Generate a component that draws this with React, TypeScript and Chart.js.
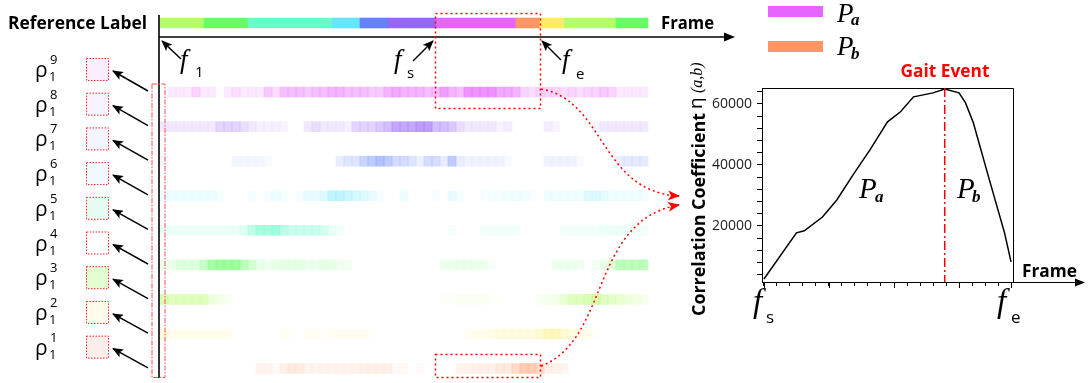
import React, { useEffect, useRef } from 'react';
import { Chart, registerables } from 'chart.js';

Chart.register(...registerables);

// ---------- data: left heat-map diagram ----------
const TOTAL_FRAMES = 122;
const CELL_FRAMES = 2;
const refLabelBounds = [0, 11, 22, 43, 50, 57, 69, 89, 95, 101, 114, 122];
const refLabelColors = ['#b4ff64', '#64ff64', '#64ffc8', '#64e6ff', '#6482ff', '#9664ff', '#e664ff', '#ff9664', '#ffeb64', '#b4ff64', '#64ff64'];
const rowLabels = ['ρ9', 'ρ8', 'ρ7', 'ρ6', 'ρ5', 'ρ4', 'ρ3', 'ρ2', 'ρ1'];
const rowSup = ['9', '8', '7', '6', '5', '4', '3', '2', '1'];
const rowColors = ['#e664ff', '#9664ff', '#6482ff', '#64e6ff', '#64ffc8', '#64ff64', '#b4ff64', '#ffeb64', '#ff9664'];
const squareFills = ['#fbeefe', '#f6f2ff', '#f2f4ff', '#eff9ff', '#e6fbf1', '#ffffff', '#e2fdd2', '#fffbea', '#fdeee9'];

const rho9 = [0,1,1,1,2,1,1,0,1,1.5, 1,1,1,2.5,1.5,3,3,3,2.5,3, 3,3.5,3.5,3,3,3,2.5,2.5,3.5,4, 3.5,3.5,3.5,3,3,4.5,3.5,3,5,5, 5,5,4,4,3.5,2,1.5,2,2,2, 1.5,2,1.5,2,2,2.5,2,1,1,1, 1];
const rho8 = [1,1,1,1,1,1,1,2,2,2, 1.5,1,0.7,0.7,0.7,0.5,0,0,1,1.5, 1,1,1,0.7,2,2,2,2.5,3,4, 4,4,4.5,4.5,3,3,2.5,1.5,1,1, 1,1,0.5,0.8,0,0,0,0,0.8,0.5, 0,0,0,0,0.5,1,1,1,1,1, 1];
const rho7 = [0.5,0,0,0,0,0,0,0,0,0.5, 0.5,0.5,0.5,0.3,0,0,0,0,0,0, 0,0,1,1.5,1.5,2.5,3,3.5,3,2, 2,1.5,0.8,2,2,1,3,1,0.7,0.7, 0.7,0.7,0.7,0.3,0,0,0,0,0.7,0.7, 0.7,0.7,0.3,0,0,0,0,1,1.2,1.2, 1.2];
const rho6 = [0.8,0.8,0.8,0.8,0.8,0.8,0.8,0.5,0,0, 0,0.5,0,0.5,0.8,0.5,0,0.5,1,1, 1.5,3,3,2.5,2,1.5,1,0.5,0,0, 0.8,0,0,0,0.3,0,1,0.5,0,0, 0.3,0.5,0.5,0.7,0.7,0.7,0.3,0,0.8,0.7, 0.7,0.7,0.7,1.5,1.5,1.2,0.7,0.7,0.7,0.7, 0.7];
const rho5 = [0.8,0.8,0.8,0.8,0.8,0.8,0.8,0.8,0.8,0.8, 1.5,3,4,4,4.5,3,2.5,2.5,2.5,2.5, 2,1,0.5,0,0,0,0,0,0,0, 0,0,0,0,0,0,0.5,0,0,0, 0.5,0.6,0.6,0.6,0.5,0,0,0,0,0, 0.5,0.6,0.6,0.6,0.6,0.8,0.8,0.8,0.8,0.6, 0.6];
const rho4 = [0.8,0.8,1.5,1.5,1.5,2.5,4,4.5,4.5,4.5, 3,2,1,0.7,1,1.2,1.2,1.2,0.8,0.8, 1.2,1,0.7,0.5,0,0,0,0,0,0, 0,0,0,0,0,0.8,0.8,1,1,0.8, 0.8,0.3,0,0,0,0,0,0,0,0.8, 0.8,0.8,0.7,0,0.5,1,1.5,3,3,3, 3];
const rho3 = [3.5,3,3,3,3,3,1.5,1,0.5,0, 0,0,0,0,0,0,0,0,0,0, 0,0,0,0,0,0,0,0,0,0, 0,0,0,0,0,0.4,0.3,0.5,0.5,0.5, 0.5,0.2,0.2,0,0,0,0,0.5,0.8,1, 2,3,3,3.5,4,3,2.5,2,1.5,1.2, 1];
const rho2 = [1.5,0.8,0.8,0.8,0.8,0.8,0.8,0.8,0.8,0, 0,0,0,0,0,0.5,0.3,0,0.5,0.5, 0.3,0.5,0.6,0.6,0.6,0.6,0.3,0,0,0, 0,0,0,0,0,0,0,0,0.5,0.8, 0.8,1,1.5,1.5,1.5,1.5,1.5,2,3,3, 2,1.5,1,0.8,0.3,0,0,0,0,0, 0];
const rho1 = [0,0,0,0,0,0,0,0,0,0, 0,0,0.8,0.8,0.3,1,1.5,1.2,0.8,0.7, 0.8,0.8,0.8,0.8,0.8,1,1,1,1,0.3, 0.5,0,0.3,0,0,0,0,0.8,0.8,1, 1,1,1.5,1.5,2.5,3.5,3.5,2.5,1,0.8, 0.7,0,0,0,0,0,0,0,0,0, 0];
const heatRows = [rho9, rho8, rho7, rho6, rho5, rho4, rho3, rho2, rho1];

// ---------- data: right correlation chart ----------
const corrFrames = [0, 2.5, 3.1, 4.5, 5.6, 6.85, 8.15, 9.5, 10.5, 11.5, 13, 13.9, 15, 15.5, 16.1, 17.4, 18.5, 19];
const corrValues = [2600, 17700, 18400, 22900, 28500, 36700, 44900, 54100, 57400, 62300, 63600, 64900, 63600, 60300, 53800, 34100, 17700, 8200];
const GAIT_FRAME = 13.9;
const xTickFrames = Array.from({ length: 20 }, (_, i) => i);
const yTickValues = [4000, 8000, 12000, 16000, 20000, 24000, 28000, 32000, 36000, 40000, 44000, 48000, 52000, 56000, 60000, 64000];

const W = 1088;
const H = 383;
const ROW0_Y = 91;
const ROW_STEP = 34.6;

function rgba(hex: string, a: number) {
  const n = parseInt(hex.slice(1), 16);
  return `rgba(${(n >> 16) & 255},${(n >> 8) & 255},${n & 255},${a})`;
}

const framePlugin = {
  id: 'frameDecor',
  afterDraw(chart: any) {
    const { ctx, chartArea } = chart;
    const { left, right, top, bottom } = chartArea;
    const xs = chart.scales.x;
    ctx.save();
    ctx.strokeStyle = '#000';
    ctx.lineWidth = 1;
    ctx.beginPath();
    ctx.moveTo(left, Math.round(top) + 0.5);
    ctx.lineTo(Math.round(right) + 0.5, Math.round(top) + 0.5);
    ctx.lineTo(Math.round(right) + 0.5, bottom);
    ctx.stroke();
    // longer major ticks on the frame axis
    [0, 5, 10, 15, 19].forEach((v) => {
      const px = Math.round(xs.getPixelForValue(v)) + 0.5;
      ctx.beginPath();
      ctx.moveTo(px, bottom);
      ctx.lineTo(px, bottom + 6);
      ctx.stroke();
    });
    // x-axis extension with arrow
    ctx.beginPath();
    ctx.moveTo(right, Math.round(bottom) + 0.5);
    ctx.lineTo(1078, Math.round(bottom) + 0.5);
    ctx.stroke();
    ctx.fillStyle = '#000';
    ctx.beginPath();
    ctx.moveTo(1085, bottom + 0.5);
    ctx.lineTo(1075, bottom - 3.5);
    ctx.lineTo(1075, bottom + 4.5);
    ctx.closePath();
    ctx.fill();
    // gait event line
    const gx = xs.getPixelForValue(GAIT_FRAME);
    ctx.strokeStyle = '#ff0000';
    ctx.lineWidth = 1.5;
    ctx.setLineDash([9, 3, 2, 3]);
    ctx.beginPath();
    ctx.moveTo(gx, top);
    ctx.lineTo(gx, bottom);
    ctx.stroke();
    ctx.restore();
  },
};

export default function App() {
  const heatRef = useRef<HTMLCanvasElement>(null);
  const lineRef = useRef<HTMLCanvasElement>(null);

  useEffect(() => {
    document.body.style.margin = '0';
    Chart.defaults.font.family = "'Open Sans', sans-serif";

    const yLabels = ['ref', 'gap', ...rowLabels];
    const datasets: any[] = [
      {
        data: refLabelColors.map((_, i) => ({ x: [refLabelBounds[i], refLabelBounds[i + 1]], y: 'ref' })),
        backgroundColor: refLabelColors,
        barThickness: 10,
        grouped: false,
        borderWidth: 0,
        clip: false,
      },
    ];
    heatRows.forEach((vals, r) => {
      datasets.push({
        data: vals.map((_, k) => ({ x: [k * CELL_FRAMES, k * CELL_FRAMES + CELL_FRAMES], y: rowLabels[r] })),
        backgroundColor: vals.map((v) => rgba(rowColors[r], Math.min(0.8, v * 0.14))),
        barThickness: 10,
        grouped: false,
        borderWidth: 0,
        clip: false,
      });
    });

    const heat = new Chart(heatRef.current!, {
      type: 'bar',
      data: { labels: yLabels, datasets },
      options: {
        indexAxis: 'y',
        animation: false,
        responsive: false,
        maintainAspectRatio: false,
        layout: { padding: { left: 160, right: W - 648, top: 23, bottom: H - 368.5 } },
        scales: {
          x: { type: 'linear', min: 0, max: TOTAL_FRAMES, display: false },
          y: { type: 'category', offset: false, display: false },
        },
        plugins: { legend: { display: false }, tooltip: { enabled: false } },
      },
    } as any);

    const line = new Chart(lineRef.current!, {
      type: 'line',
      data: {
        datasets: [
          {
            data: corrFrames.map((f, i) => ({ x: f, y: corrValues[i] })),
            borderColor: '#000',
            borderWidth: 1.5,
            pointRadius: 0,
            tension: 0,
            fill: false,
          },
        ],
      },
      options: {
        animation: false,
        responsive: false,
        maintainAspectRatio: false,
        layout: { padding: { left: 680, right: W - 1013, top: 88, bottom: 81 } },
        scales: {
          x: {
            type: 'linear',
            min: -0.15,
            max: 19.15,
            afterBuildTicks: (s: any) => {
              s.ticks = xTickFrames.map((v) => ({ value: v }));
            },
            afterFit: (s: any) => {
              s.height = 20;
            },
            ticks: { callback: () => '', autoSkip: false },
            grid: { drawOnChartArea: false, tickLength: 4, color: '#000' },
            border: { color: '#000', width: 1 },
          },
          y: {
            type: 'linear',
            min: 1600,
            max: 65200,
            afterBuildTicks: (s: any) => {
              s.ticks = yTickValues.map((v) => ({ value: v }));
            },
            afterFit: (s: any) => {
              s.width = 82;
            },
            ticks: {
              autoSkip: false,
              callback: (v: any) => (Number(v) % 20000 === 0 ? String(v) : ''),
              font: { family: "'Open Sans', sans-serif", size: 14 },
              color: '#222',
              padding: 5,
            },
            grid: { drawOnChartArea: false, tickLength: 5, color: '#000' },
            border: { color: '#000', width: 1 },
          },
        },
        plugins: { legend: { display: false }, tooltip: { enabled: false } },
      },
      plugins: [framePlugin],
    } as any);

    return () => {
      heat.destroy();
      line.destroy();
    };
  }, []);

  const sans = "'Open Sans', sans-serif";
  const serif = "'Liberation Serif', 'DejaVu Serif', serif";

  return (
    <div style={{ position: 'relative', width: W, height: H, background: '#fff' }}>
      <canvas ref={heatRef} width={W} height={H} style={{ position: 'absolute', left: 0, top: 0 }} />
      <canvas ref={lineRef} width={W} height={H} style={{ position: 'absolute', left: 0, top: 0 }} />
      <svg width={W} height={H} style={{ position: 'absolute', left: 0, top: 0, pointerEvents: 'none' }}>
        <defs>
          <marker id="ah" markerUnits="userSpaceOnUse" markerWidth="11" markerHeight="9" refX="10" refY="4.5" orient="auto">
            <path d="M0,0 L11,4.5 L0,9 L2.5,4.5 z" fill="#000" />
          </marker>
          <marker id="rh" markerUnits="userSpaceOnUse" markerWidth="12" markerHeight="10" refX="11" refY="5" orient="auto">
            <path d="M0,0 L12,5 L0,10 L3,5 z" fill="#ff0000" />
          </marker>
        </defs>

        {/* left header */}
        <text x={8} y={29} fontFamily={sans} fontWeight={700} fontSize={17} textLength={139} lengthAdjust="spacingAndGlyphs">Reference Label</text>
        <text x={661} y={29} fontFamily={sans} fontWeight={700} fontSize={17} textLength={53} lengthAdjust="spacingAndGlyphs">Frame</text>

        {/* axes of the diagram */}
        <line x1={159} y1={15} x2={159} y2={378} stroke="#000" strokeWidth={1.6} />
        <line x1={159} y1={37} x2={726} y2={37} stroke="#000" strokeWidth={1.6} />
        <polygon points="735,37 724,32.5 724,41.5" fill="#000" />

        {/* f1, fs, fe */}
        <line x1={181} y1={59} x2={162} y2={41} stroke="#000" strokeWidth={1.5} markerEnd="url(#ah)" />
        <text x={180} y={68} fontFamily={serif} fontStyle="italic" fontSize={27}>f</text>
        <text x={195} y={77} fontFamily={sans} fontSize={15}>1</text>

        <line x1={413} y1={61} x2={433} y2={41} stroke="#000" strokeWidth={1.5} markerEnd="url(#ah)" />
        <text x={394} y={68} fontFamily={serif} fontStyle="italic" fontSize={27}>f</text>
        <text x={407} y={78} fontFamily={sans} fontSize={15}>s</text>

        <line x1={561} y1={60} x2={542} y2={41} stroke="#000" strokeWidth={1.5} markerEnd="url(#ah)" />
        <text x={562} y={68} fontFamily={serif} fontStyle="italic" fontSize={27}>f</text>
        <text x={576} y={79} fontFamily={sans} fontSize={15}>e</text>

        {/* dotted selection boxes */}
        <rect x={435.5} y={13.5} width={105} height={95} fill="none" stroke="#ff0000" strokeWidth={1.5} strokeDasharray="2 3" />
        <rect x={435.5} y={354.5} width={105} height={23} fill="none" stroke="#ff0000" strokeWidth={1.5} strokeDasharray="2 3" />
        <path d="M541,89 C605,100 600,192 679,196" fill="none" stroke="#ff0000" strokeWidth={1.5} strokeDasharray="2 3" markerEnd="url(#rh)" />
        <path d="M541,366 C610,340 590,220 679,205" fill="none" stroke="#ff0000" strokeWidth={1.5} strokeDasharray="2 3" markerEnd="url(#rh)" />

        {/* first-frame box */}
        <rect x={152} y={84} width={13} height={293.5} fill="none" stroke="#ff4d4d" strokeWidth={1} strokeDasharray="5 1.5 1.5 1.5" />

        {/* rho labels, squares and arrows */}
        {rowLabels.map((_, i) => {
          const sy = 58 + i * 34.7;
          const ry = ROW0_Y + i * ROW_STEP;
          return (
            <g key={i}>
              <text x={35} y={77 + i * 34.7} fontFamily={sans} fontSize={21}>ρ</text>
              <text x={50} y={64 + i * 34.7} fontFamily={sans} fontSize={13}>{rowSup[i]}</text>
              <text x={49} y={81 + i * 34.7} fontFamily={sans} fontSize={13}>1</text>
              <rect x={86.5} y={sy + 0.5} width={22} height={22} fill={squareFills[i]} stroke="#ff2020" strokeWidth={1} strokeDasharray="1.5 1.5" />
              <line x1={148} y1={ry} x2={113} y2={sy + 13} stroke="#000" strokeWidth={1.5} markerEnd="url(#ah)" />
            </g>
          );
        })}

        {/* legend */}
        <rect x={768} y={6} width={55} height={11} fill="#e664ff" />
        <text x={837} y={22} fontFamily={serif} fontStyle="italic" fontSize={27}>P</text>
        <text x={851} y={25} fontFamily={serif} fontStyle="italic" fontWeight={700} fontSize={17}>a</text>
        <rect x={768} y={41} width={55} height={11} fill="#ff9664" />
        <text x={837} y={55} fontFamily={serif} fontStyle="italic" fontSize={27}>P</text>
        <text x={851} y={59} fontFamily={serif} fontStyle="italic" fontWeight={700} fontSize={17}>b</text>

        {/* right chart annotations */}
        <text x={945} y={77} textAnchor="middle" fill="#ff0000" fontFamily={sans} fontWeight={700} fontSize={17} textLength={89} lengthAdjust="spacingAndGlyphs">Gait Event</text>
        <text x={859} y={198} fontFamily={serif} fontStyle="italic" fontSize={29}>P</text>
        <text x={875} y={202} fontFamily={serif} fontStyle="italic" fontWeight={700} fontSize={17}>a</text>
        <text x={957} y={198} fontFamily={serif} fontStyle="italic" fontSize={29}>P</text>
        <text x={972} y={202} fontFamily={serif} fontStyle="italic" fontWeight={700} fontSize={17}>b</text>

        <g transform="translate(705,316) rotate(-90)">
          <text x={0} y={0} fontFamily={sans} fontWeight={700} fontSize={17} textLength={203} lengthAdjust="spacingAndGlyphs">Correlation Coefficient</text>
          <text x={207} y={-3} fontFamily={sans} fontSize={19}>η</text>
          <text x={223} y={-3} fontFamily={serif} fontStyle="italic" fontSize={16}>(a,b)</text>
        </g>

        <text x={1022} y={277} fontFamily={sans} fontWeight={700} fontSize={17} textLength={55} lengthAdjust="spacingAndGlyphs">Frame</text>
        <text x={753} y={312} fontFamily={serif} fontStyle="italic" fontSize={33}>f</text>
        <text x={766} y={323} fontFamily={sans} fontSize={17}>s</text>
        <text x={997} y={312} fontFamily={serif} fontStyle="italic" fontSize={33}>f</text>
        <text x={1011} y={323} fontFamily={sans} fontSize={17}>e</text>
      </svg>
    </div>
  );
}
